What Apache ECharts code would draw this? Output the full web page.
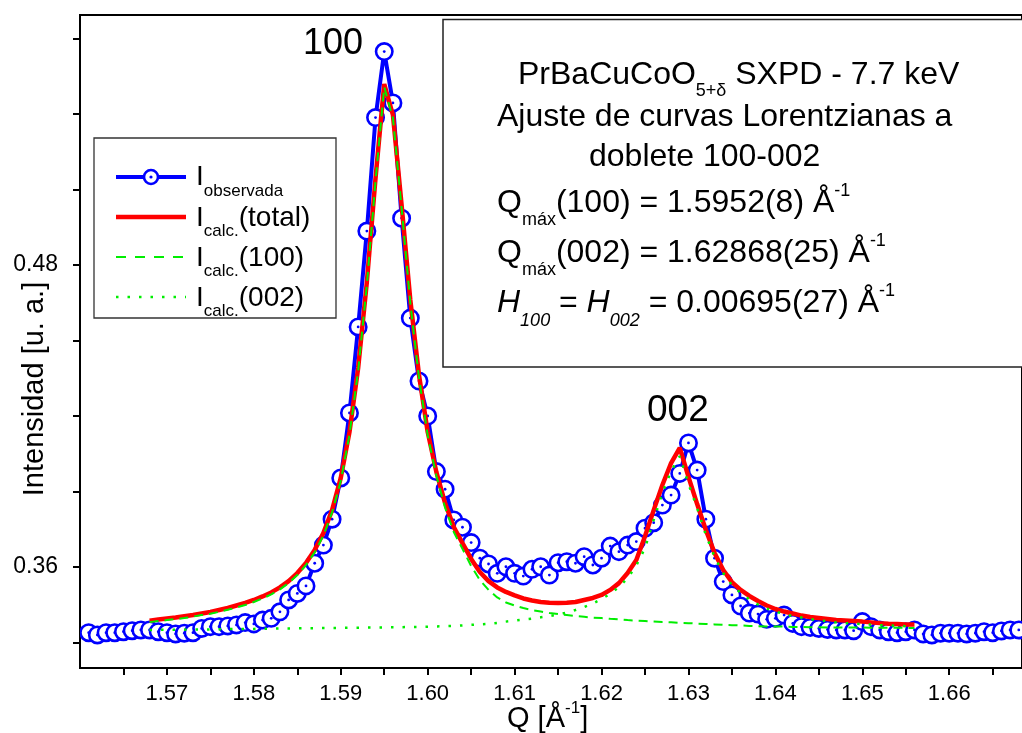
<!DOCTYPE html>
<html><head><meta charset="utf-8">
<script src="https://cdn.jsdelivr.net/npm/echarts@6/dist/echarts.min.js"></script>
<style>html,body{margin:0;padding:0;background:#fff}#c{width:1022px;height:733px}</style>
</head><body><div id="c"></div>
<script>
// ---------------- data ----------------
const qObs = [1.561,1.562,1.563,1.564,1.565,1.566,1.567,1.568,1.569,1.570,
 1.571,1.572,1.573,1.574,1.575,1.576,1.577,1.578,1.579,1.580,
 1.581,1.582,1.583,1.584,1.585,1.586,1.587,1.588,1.589,1.590,
 1.591,1.592,1.593,1.594,1.595,1.596,1.597,1.598,1.599,1.600,
 1.601,1.602,1.603,1.604,1.605,1.606,1.607,1.608,1.609,1.610,
 1.611,1.612,1.613,1.614,1.615,1.616,1.617,1.618,1.619,1.620,
 1.621,1.622,1.623,1.624,1.625,1.626,1.627,1.628,1.629,1.630,
 1.631,1.632,1.633,1.634,1.635,1.636,1.637,1.638,1.639,1.640,
 1.641,1.642,1.643,1.644,1.645,1.646,1.647,1.648,1.649,1.650,
 1.651,1.652,1.653,1.654,1.655,1.656,1.657,1.658,1.659,1.660,
 1.661,1.662,1.663,1.664,1.665,1.666,1.667,1.668];
const iObs = [0.3339,0.3330,0.3339,0.3339,0.3343,0.3347,0.3350,0.3350,0.3343,0.3339,
 0.3334,0.3337,0.3339,0.3356,0.3363,0.3363,0.3366,0.3370,0.3379,0.3374,
 0.3389,0.3396,0.3422,0.3469,0.3495,0.3525,0.3615,0.3687,0.3790,0.3954,
 0.4212,0.4554,0.4935,0.5386,0.5648,0.5444,0.4986,0.4589,0.4339,0.4200,
 0.3979,0.3909,0.3787,0.3758,0.3697,0.3635,0.3612,0.3575,0.3601,0.3575,
 0.3564,0.3591,0.3601,0.3568,0.3617,0.3621,0.3615,0.3641,0.3608,0.3635,
 0.3683,0.3661,0.3687,0.3701,0.3754,0.3776,0.3846,0.3886,0.3972,0.4093,
 0.3985,0.3790,0.3635,0.3542,0.3489,0.3445,0.3417,0.3413,0.3392,0.3396,
 0.3409,0.3376,0.3363,0.3360,0.3356,0.3352,0.3350,0.3350,0.3347,0.3383,
 0.3363,0.3350,0.3343,0.3339,0.3343,0.3350,0.3334,0.3330,0.3337,0.3337,
 0.3337,0.3334,0.3337,0.3343,0.3339,0.3346,0.3350,0.3350];
const qCalc = [1.568,1.569,1.570,1.571,1.572,1.573,1.574,1.575,1.576,1.577,
 1.578,1.579,1.580,1.581,1.582,1.583,1.584,1.585,1.586,1.587,
 1.588,1.589,1.590,1.591,1.592,1.593,1.594,1.595,1.596,1.597,
 1.598,1.599,1.600,1.601,1.602,1.603,1.604,1.605,1.606,1.607,
 1.608,1.609,1.610,1.611,1.612,1.613,1.614,1.615,1.616,1.617,
 1.618,1.619,1.620,1.621,1.622,1.623,1.624,1.625,1.626,1.627,
 1.628,1.629,1.630,1.631,1.632,1.633,1.634,1.635,1.636,1.637,
 1.638,1.639,1.640,1.641,1.642,1.643,1.644,1.645,1.646,1.647,
 1.648,1.649,1.650,1.651,1.652,1.653,1.654,1.655,1.656];
const iTotal = [0.3387,0.3391,0.3395,0.3399,0.3404,0.3409,0.3415,0.3421,0.3429,0.3437,
 0.3447,0.3457,0.3469,0.3483,0.3499,0.3519,0.3544,0.3576,0.3616,0.3668,
 0.3735,0.3826,0.3954,0.4136,0.4391,0.4732,0.5146,0.5519,0.5396,0.5038,
 0.4661,0.4363,0.4136,0.3977,0.3854,0.3759,0.3695,0.3632,0.3580,0.3544,
 0.3519,0.3501,0.3487,0.3475,0.3467,0.3461,0.3458,0.3457,0.3458,0.3461,
 0.3469,0.3477,0.3489,0.3509,0.3536,0.3576,0.3628,0.3722,0.3826,0.3926,
 0.4013,0.4073,0.3958,0.3850,0.3747,0.3656,0.3588,0.3540,0.3509,0.3485,
 0.3465,0.3447,0.3433,0.3423,0.3415,0.3407,0.3401,0.3397,0.3393,0.3389,
 0.3387,0.3385,0.3383,0.3380,0.3377,0.3375,0.3374,0.3372,0.3372];
const i100 = [0.3381,0.3385,0.3389,0.3393,0.3397,0.3403,0.3409,0.3414,0.3422,0.3430,
 0.3439,0.3449,0.3461,0.3475,0.3491,0.3511,0.3536,0.3568,0.3608,0.3658,
 0.3725,0.3817,0.3942,0.4125,0.4379,0.4721,0.5134,0.5507,0.5384,0.5027,
 0.4649,0.4351,0.4123,0.3962,0.3836,0.3739,0.3672,0.3604,0.3548,0.3509,
 0.3479,0.3459,0.3447,0.3437,0.3429,0.3423,0.3417,0.3413,0.3409,0.3405,
 0.3402,0.3399,0.3397,0.3394,0.3392,0.3389,0.3387,0.3385,0.3383,0.3381,
 0.3380,0.3378,0.3377,0.3375,0.3374,0.3372,0.3370,0.3369,0.3368,0.3366,
 0.3365,0.3364,0.3364,0.3363,0.3362,0.3362,0.3361,0.3361,0.3360,0.3360,
 0.3360,0.3360,0.3360,0.3359,0.3359,0.3359,0.3359,0.3358,0.3358];
const i002 = [0.3350,0.3350,0.3351,0.3351,0.3351,0.3352,0.3352,0.3352,0.3353,0.3353,
 0.3354,0.3354,0.3354,0.3355,0.3355,0.3356,0.3356,0.3356,0.3357,0.3357,
 0.3358,0.3358,0.3358,0.3359,0.3359,0.3360,0.3360,0.3360,0.3361,0.3361,
 0.3362,0.3362,0.3363,0.3364,0.3365,0.3366,0.3368,0.3370,0.3372,0.3374,
 0.3378,0.3383,0.3387,0.3391,0.3395,0.3400,0.3405,0.3411,0.3419,0.3429,
 0.3441,0.3455,0.3473,0.3493,0.3521,0.3556,0.3606,0.3675,0.3787,0.3894,
 0.3981,0.4041,0.3930,0.3834,0.3727,0.3640,0.3576,0.3528,0.3497,0.3471,
 0.3451,0.3435,0.3423,0.3413,0.3405,0.3399,0.3393,0.3388,0.3384,0.3380,
 0.3377,0.3375,0.3373,0.3371,0.3369,0.3368,0.3366,0.3365,0.3364];
const xTicks = [1.565,1.570,1.575,1.580,1.585,1.590,1.595,1.600,1.605,1.610,1.615,1.620,1.625,1.630,1.635,1.640,1.645,1.650,1.655,1.660,1.665];
const xLabels = [1.57,1.58,1.59,1.60,1.61,1.62,1.63,1.64,1.65,1.66];
const yTicks = [0.33,0.36,0.39,0.42,0.45,0.48,0.51,0.54,0.57];
const yLabels = [0.36,0.48];

// ---------------- helpers ----------------
const FF = '"Liberation Sans", Arial, sans-serif';
const mctx = document.createElement('canvas').getContext('2d');
function tw(t, s, it){ mctx.font = (it?'italic ':'') + s + 'px ' + FF; return mctx.measureText(t).width; }
function run(x, base, parts, out){
  let cx = x;
  for (const p of parts){
    const b = base + (p.dy || 0);
    out.push({type:'text', x: cx, y: b - 0.3465 * p.s, z: 100,
      style:{text:p.t, font:(p.i?'italic ':'') + p.s + 'px ' + FF, fill:'#000', align:'left', verticalAlign:'middle'}});
    cx += tw(p.t, p.s, p.i);
  }
  return cx;
}
const zip = (a, b) => a.map((v, i) => [v, b[i]]);

// ---------------- graphics (legend, annotations, titles) ----------------
const G = [];
const M = 32, S = 18;
// annotation box
G.push({type:'rect', shape:{x:443, y:19.5, width:600, height:347.5}, z:90, style:{fill:'#fff', stroke:'#222', lineWidth:1.5}});
run(518, 86, [{t:'PrBaCuCoO',s:M},{t:'5+δ',s:S,dy:11},{t:' SXPD - 7.7 keV',s:M}], G);
run(497, 128, [{t:'Ajuste de curvas Lorentzianas a',s:M}], G);
run(589, 168, [{t:'doblete 100-002',s:M}], G);
run(497, 214, [{t:'Q',s:M},{t:'máx',s:S,dy:12},{t:'(100) = 1.5952(8) Å',s:M},{t:'-1',s:S,dy:-17}], G);
run(497, 264, [{t:'Q',s:M},{t:'máx',s:S,dy:12},{t:'(002) = 1.62868(25) Å',s:M},{t:'-1',s:S,dy:-17}], G);
run(497, 314, [{t:'H',s:M,i:1},{t:'100',s:S,i:1,dy:13},{t:' = ',s:M},{t:'H',s:M,i:1},{t:'002',s:S,i:1,dy:13},{t:' = 0.00695(27) Å',s:M},{t:'-1',s:S,dy:-17}], G);

// legend box
G.push({type:'rect', shape:{x:94, y:138, width:242, height:180}, z:90, style:{fill:'#fff', stroke:'#333', lineWidth:1.3}});
G.push({type:'line', shape:{x1:116,y1:177,x2:186,y2:177}, z:95, style:{stroke:'#0000ff', lineWidth:4}});
G.push({type:'circle', shape:{cx:151,cy:177,r:7}, z:96, style:{fill:'#fff', stroke:'#0000ff', lineWidth:2.6}});
G.push({type:'circle', shape:{cx:151,cy:177,r:1.6}, z:97, style:{fill:'#0000ff'}});
G.push({type:'line', shape:{x1:116,y1:217,x2:186,y2:217}, z:95, style:{stroke:'#ff0000', lineWidth:4.5}});
G.push({type:'line', shape:{x1:116,y1:257,x2:186,y2:257}, z:95, style:{stroke:'#00ee00', lineWidth:2, lineDash:[10,9]}});
G.push({type:'line', shape:{x1:116,y1:297,x2:186,y2:297}, z:95, style:{stroke:'#00ee00', lineWidth:2.5, lineDash:[2.5,9]}});
run(196, 187, [{t:'I',s:28},{t:'observada',s:17,dy:10}], G);
run(196, 228, [{t:'I',s:28},{t:'calc.',s:17,dy:9},{t:'(total)',s:28}], G);
run(196, 268, [{t:'I',s:28},{t:'calc.',s:17,dy:9},{t:'(100)',s:28}], G);
run(196, 308, [{t:'I',s:28},{t:'calc.',s:17,dy:9},{t:'(002)',s:28}], G);

// peak labels
run(303, 57, [{t:'100',s:36}], G);
run(647, 424, [{t:'002',s:37}], G);

// axis titles
G.push({type:'text', x:35, y:389, rotation:Math.PI/2, z:100,
  style:{text:'Intensidad [u. a.]', font:'29px ' + FF, fill:'#000', align:'center', verticalAlign:'middle'}});
run(507, 729, [{t:'Q [Å',s:29},{t:'-1',s:17,dy:-15},{t:']',s:29}], G);

// ---------------- chart ----------------
const chart = echarts.init(document.getElementById('c'), null, {renderer:'canvas'});
chart.setOption({
  animation:false,
  backgroundColor:'#fff',
  grid:{left:80, top:15, right:-3, bottom:65, show:true, borderColor:'#000', borderWidth:2, backgroundColor:'transparent'},
  xAxis:{type:'value', min:1.56, max:1.66837,
    axisLine:{show:true, lineStyle:{color:'#000', width:2}},
    axisTick:{show:true, inside:false, length:7, lineStyle:{color:'#000', width:2}, customValues:xTicks},
    axisLabel:{customValues:xLabels, formatter:v => v.toFixed(2), color:'#000', fontSize:22, fontFamily:FF, margin:15},
    splitLine:{show:false}},
  yAxis:{type:'value', min:0.31987, max:0.57934,
    axisLine:{show:true, lineStyle:{color:'#000', width:2}},
    axisTick:{show:true, inside:false, length:7, lineStyle:{color:'#000', width:2}, customValues:yTicks},
    axisLabel:{customValues:yLabels, formatter:v => v.toFixed(2), color:'#000', fontSize:23, fontFamily:FF, margin:22},
    splitLine:{show:false}},
  series:[
    {name:'obs-line', type:'line', data:zip(qObs, iObs), showSymbol:false, z:1,
      lineStyle:{color:'#0000ff', width:4}, silent:true},
    {name:'obs-markers', type:'custom', data:zip(qObs, iObs), z:2, clip:true,
      renderItem:(params, api) => {
        const p = api.coord([api.value(0), api.value(1)]);
        return {type:'group', children:[
          {type:'circle', shape:{cx:p[0], cy:p[1], r:8.2}, style:{fill:'#fff', stroke:'#0000ff', lineWidth:2.6}},
          {type:'circle', shape:{cx:p[0], cy:p[1], r:1.4}, style:{fill:'#0000ff'}}
        ]};
      }},
    {name:'total', type:'line', data:zip(qCalc, iTotal), showSymbol:false, z:3,
      lineStyle:{color:'#ff0000', width:4.5}},
    {name:'c100', type:'line', data:zip(qCalc, i100), showSymbol:false, z:4,
      lineStyle:{color:'#00ee00', width:2, type:[9,6]}},
    {name:'c002', type:'line', data:zip(qCalc, i002), showSymbol:false, z:5,
      lineStyle:{color:'#00ee00', width:2.5, type:[2.5,9]}}
  ],
  graphic:{elements:G}
});
</script></body></html>
